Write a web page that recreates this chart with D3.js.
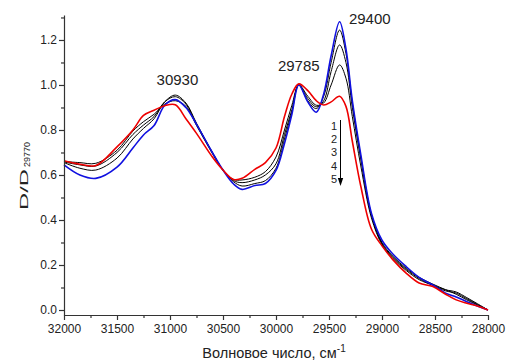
<!DOCTYPE html>
<html>
<head>
<meta charset="utf-8">
<script src="https://cdn.jsdelivr.net/npm/d3@7"></script>
<style>
  body { margin: 0; background: #fff; }
  svg text { font-family: "Liberation Sans", Arial, sans-serif; fill: #222; }
</style>
</head>
<body>
<svg id="chart" width="508" height="363"></svg>
<script>
// wavenumber grid, cm-1
var wavenumbers = [32000, 31850, 31700, 31500, 31350, 31250, 31150, 31050, 30950, 30850,
                   30750, 30600, 30500, 30400, 30320, 30200, 30100, 30000, 29920, 29850,
                   29785, 29700, 29620, 29550, 29480, 29400, 29340, 29280, 29200, 29100,
                   29000, 28900, 28770, 28650, 28520, 28400, 28300, 28200, 28100, 28000];

var curve1 = [0.645, 0.600, 0.585, 0.635, 0.720, 0.778, 0.820, 0.910, 0.935, 0.900,
              0.825, 0.700, 0.622, 0.560, 0.536, 0.553, 0.562, 0.620, 0.740, 0.870,
              1.000, 0.925, 0.879, 0.960, 1.130, 1.281, 1.160, 0.930, 0.690, 0.430,
              0.310, 0.250, 0.192, 0.145, 0.111, 0.075, 0.058, 0.037, 0.018, 0.000];

var curve2 = [0.655, 0.630, 0.622, 0.675, 0.760, 0.807, 0.850, 0.925, 0.955, 0.920,
              0.830, 0.700, 0.622, 0.570, 0.551, 0.562, 0.575, 0.630, 0.760, 0.880,
              1.000, 0.930, 0.895, 0.950, 1.100, 1.244, 1.140, 0.920, 0.680, 0.425,
              0.300, 0.240, 0.185, 0.145, 0.115, 0.090, 0.070, 0.045, 0.022, 0.000];

var curve3 = [0.658, 0.645, 0.640, 0.700, 0.780, 0.822, 0.860, 0.925, 0.948, 0.915,
              0.825, 0.700, 0.622, 0.575, 0.566, 0.578, 0.600, 0.650, 0.780, 0.890,
              1.000, 0.940, 0.903, 0.930, 1.060, 1.178, 1.100, 0.900, 0.670, 0.420,
              0.295, 0.235, 0.180, 0.140, 0.110, 0.085, 0.075, 0.050, 0.025, 0.000];

var curve4 = [0.660, 0.655, 0.652, 0.710, 0.795, 0.837, 0.870, 0.915, 0.930, 0.905,
              0.820, 0.695, 0.620, 0.580, 0.578, 0.590, 0.615, 0.680, 0.800, 0.910,
              1.000, 0.950, 0.910, 0.920, 1.000, 1.089, 1.030, 0.860, 0.640, 0.410,
              0.290, 0.230, 0.175, 0.135, 0.110, 0.090, 0.080, 0.055, 0.028, 0.000];

var curve5 = [0.663, 0.648, 0.642, 0.725, 0.800, 0.865, 0.888, 0.908, 0.912, 0.850,
              0.785, 0.680, 0.622, 0.580, 0.585, 0.625, 0.655, 0.720, 0.860, 0.960,
              1.005, 0.975, 0.930, 0.911, 0.925, 0.950, 0.905, 0.750, 0.550, 0.360,
              0.285, 0.225, 0.163, 0.120, 0.104, 0.070, 0.045, 0.030, 0.018, 0.000];

var seriesList = [curve1, curve2, curve3, curve4, curve5];
var seriesColors = ["#1010e0", "#000000", "#000000", "#000000", "#ee0000"];
var seriesWidths = [1.6, 1, 1, 1, 1.6];

var peakLabels = [{wn: 30930, v: 1.0, t: "30930"}, {wn: 29115, v: 1.27, t: "29400"}, {wn: 29785, v: 1.06, t: "29785"}];
var legendNames = ["1", "2", "3", "4", "5"];

var xMajor = d3.range(32000, 27999, -500);
var xMinor = d3.range(31750, 28000, -500);
var yMajor = [0, 0.2, 0.4, 0.6, 0.8, 1.0, 1.2];
var yMinor = [0.1, 0.3, 0.5, 0.7, 0.9, 1.1, 1.3];

var svg = d3.select("#chart");
var plotLeft = 64, plotRight = 488, plotTop = 15, plotBottom = 315;

var x = d3.scaleLinear().domain([32000, 28000]).range([plotLeft, plotRight]);
var y = d3.scaleLinear().domain([-0.0222, 1.311]).range([plotBottom, plotTop]);

// curves, red drawn on top of blacks, blue beneath
var order = [1, 2, 3, 0, 4];
var line = d3.line().curve(d3.curveCatmullRom.alpha(0.5));
order.forEach(function(k){
    var pts = wavenumbers.map(function(w, i){ return [x(w), y(seriesList[k][i])]; });
    svg.append("path")
        .attr("d", line(pts))
        .attr("fill", "none")
        .attr("stroke", seriesColors[k])
        .attr("stroke-width", seriesWidths[k]);
});

// x axis
var gx = svg.append("g").attr("transform", "translate(0," + plotBottom + ")");
gx.call(d3.axisBottom(x).tickValues(xMajor).tickFormat(d3.format("d")).tickSize(5).tickSizeOuter(0));
gx.append("g").call(d3.axisBottom(x).tickValues(xMinor).tickFormat("").tickSize(3).tickSizeOuter(0))
  .select(".domain").remove();
gx.selectAll("text").style("font-size", "12px").attr("dy", "0.95em").attr("y", 7);

// y axis
var gy = svg.append("g").attr("transform", "translate(" + plotLeft + ",0)");
gy.call(d3.axisLeft(y).tickValues(yMajor).tickFormat(d3.format(".1f")).tickSize(5).tickSizeOuter(0));
gy.append("g").call(d3.axisLeft(y).tickValues(yMinor).tickFormat("").tickSize(3).tickSizeOuter(0))
  .select(".domain").remove();
gy.selectAll("text").style("font-size", "12px").attr("x", -7);

svg.selectAll(".domain, .tick line").attr("stroke", "#333").attr("stroke-width", 1.2);

// peak labels
svg.selectAll(".peak").data(peakLabels).enter().append("text")
    .attr("class", "peak")
    .attr("x", function(d){ return x(d.wn); })
    .attr("y", function(d){ return y(d.v); })
    .attr("text-anchor", "middle")
    .style("font-size", "15px")
    .text(function(d){ return d.t; });

// legend: numbers with arrow
var legX = 334, legY0 = 130, legStep = 13.2;
svg.selectAll(".leg").data(legendNames).enter().append("text")
    .attr("class", "leg")
    .attr("x", legX)
    .attr("y", function(d, i){ return legY0 + i * legStep; })
    .attr("text-anchor", "middle")
    .style("font-size", "11px")
    .text(function(d){ return d; });
svg.append("line").attr("x1", 340.5).attr("x2", 340.5).attr("y1", 120).attr("y2", 180)
    .attr("stroke", "#000").attr("stroke-width", 1);
svg.append("path").attr("d", "M337.8,178 L343.2,178 L340.5,186 Z").attr("fill", "#000");

// axis titles
var xt = svg.append("text").attr("x", 274).attr("y", 358).attr("text-anchor", "middle")
    .style("font-size", "14.5px");
xt.append("tspan").text("Волновое число, см");
xt.append("tspan").attr("dy", -6).style("font-size", "10px").text("-1");

var yt = svg.append("g").attr("transform", "translate(28,210) rotate(-90)");
yt.append("text").attr("x", 0).attr("y", 0).style("font-size", "11.5px")
    .attr("textLength", 41).attr("lengthAdjust", "spacingAndGlyphs").text("D/D");
yt.append("text").attr("x", 43).attr("y", 2).style("font-size", "9px")
    .attr("textLength", 25).attr("lengthAdjust", "spacingAndGlyphs").text("29770");
</script>
</body>
</html>
